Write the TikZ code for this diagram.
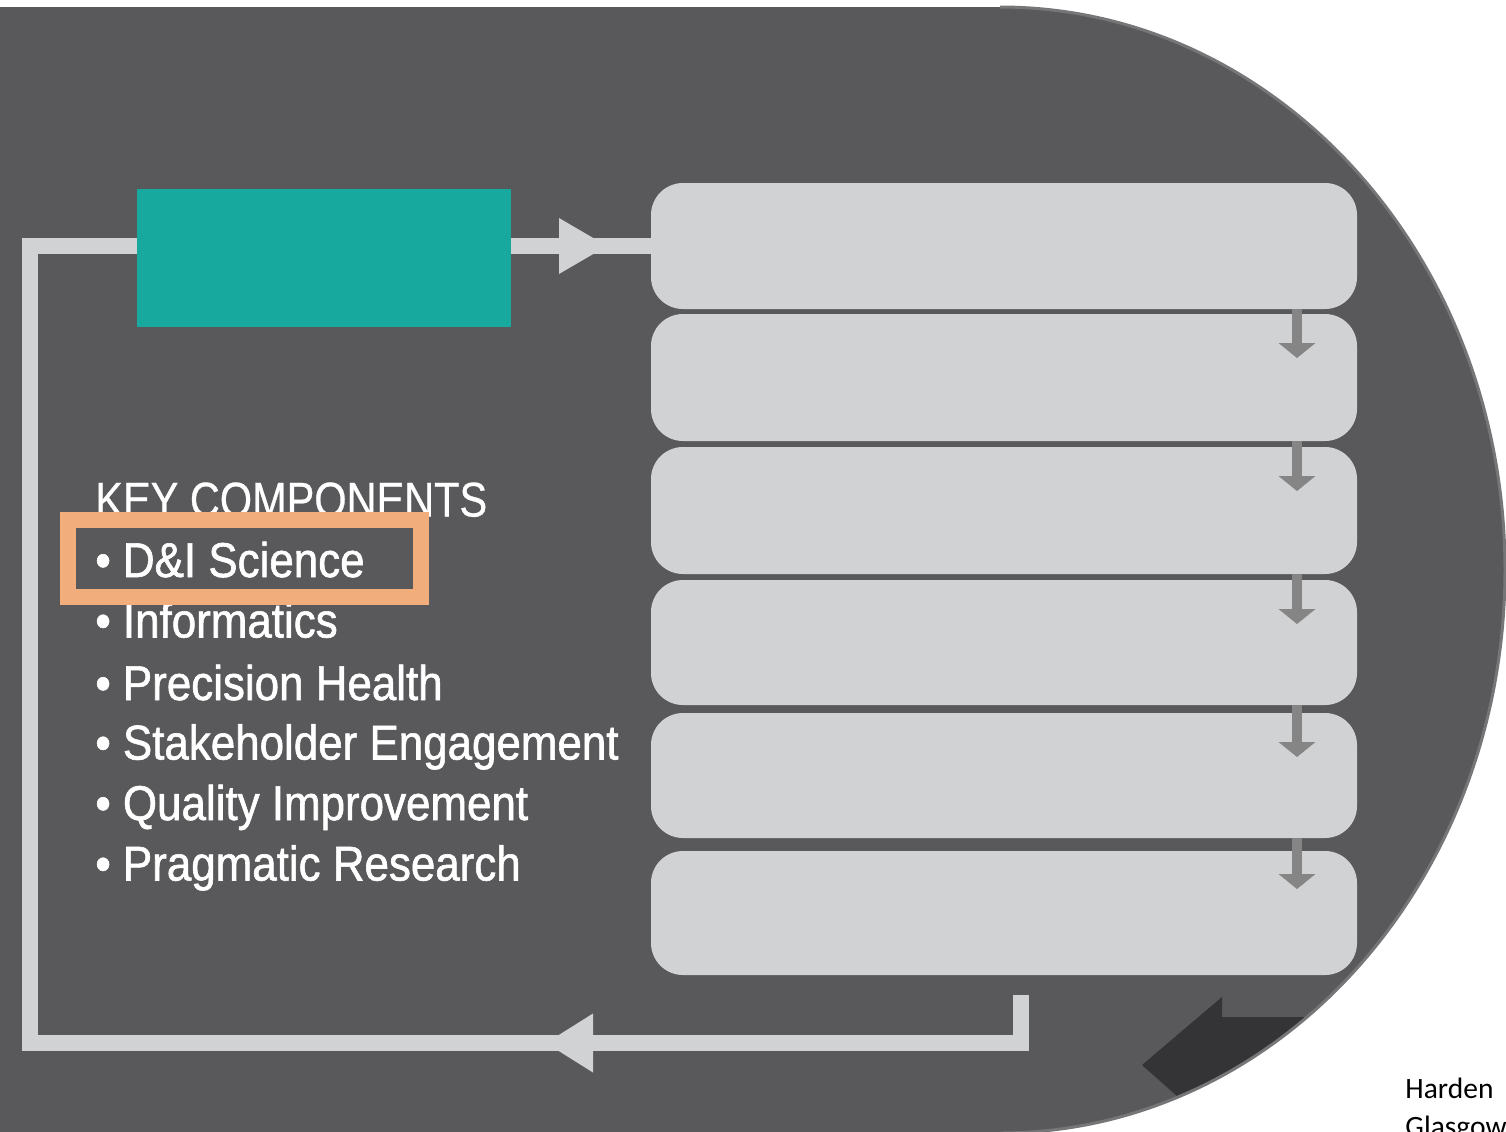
\documentclass[tikz,border=0pt]{standalone}
\usepackage{fontspec}
\newfontfamily\kctitle[FakeStretch=0.85,FakeBold=0.6]{Liberation Sans}
\newfontfamily\kcitem[FakeStretch=0.9,FakeBold=1.2]{Liberation Sans}
\newfontfamily\notefont{Carlito}
\definecolor{bgdark}{HTML}{59595B}
\definecolor{boxgray}{HTML}{D1D2D4}
\definecolor{tealbox}{HTML}{17A89E}
\definecolor{hlorange}{HTML}{F2AD7D}
\definecolor{arrgray}{HTML}{858585}
\definecolor{rimgray}{HTML}{767678}
\definecolor{darkarrow}{HTML}{343436}
\begin{document}
\begin{tikzpicture}[x=0.5pt,y=-0.5pt,
  stepbox/.style={fill=boxgray, draw=none, rounded corners=16pt, minimum width=353pt, inner sep=0pt, outer sep=0pt},
  tealnode/.style={fill=tealbox, draw=none, minimum width=187pt, minimum height=69pt, inner sep=0pt, outer sep=0pt},
  loopline/.style={draw=boxgray, line width=8pt},
  shaft/.style={draw=arrgray, line width=5pt},
  kctext/.style={anchor=base west, text=white, inner sep=0pt, font=\kcitem\fontsize{24.4pt}{29pt}\selectfont},
  notetext/.style={anchor=base west, text=black, inner sep=0pt, font=\notefont\fontsize{14.75pt}{19pt}\selectfont}
]
\useasboundingbox (0,0) rectangle (1506,1131);
\clip (0,0) rectangle (1506,1131);
\fill[white] (0,0) rectangle (1506,1131);
% dark background shape
\fill[bgdark] (0,7) -- (1000,7) arc[start angle=-90, end angle=90, x radius=505, y radius=563] -- (0,1133) -- cycle;
\begin{scope}
  \clip (0,7) -- (1000,7) arc[start angle=-90, end angle=90, x radius=505, y radius=563] -- (0,1133) -- cycle;
  \fill[darkarrow] (1222,997) -- (1142,1065) -- (1195,1112) -- (1460,1112) -- (1460,1017) -- (1222,1017) -- cycle;
\end{scope}
\draw[rimgray, line width=1.5pt] (1000,7) arc[start angle=-90, end angle=90, x radius=505, y radius=563];

% nodes
\node[tealnode] (t) at (324,258) {};
\node[stepbox, minimum height=63pt]   (b1) at (1004,246) {};
\node[stepbox, minimum height=63.5pt] (b2) at (1004,377.5) {};
\node[stepbox, minimum height=63.5pt] (b3) at (1004,510.5) {};
\node[stepbox, minimum height=62.5pt] (b4) at (1004,642.5) {};
\node[stepbox, minimum height=62.5pt] (b5) at (1004,775.5) {};
\node[stepbox, minimum height=62pt]   (b6) at (1004,913) {};

% feedback loop
\coordinate (ret) at (1021,995);
\coordinate (bl) at (29.5,1043);
\draw[loopline] (ret) |- (bl) |- (t.west |- b1.west);
\coordinate (tipBottom) at (546,1043);
\fill[boxgray] (tipBottom) -- ++(23.5pt,14.75pt) -- ++(0pt,-29.5pt) -- cycle;

% top connector
\draw[loopline] (t.east |- b1.west) -- (b1.west);
\coordinate (tipTop) at (607,246);
\fill[boxgray] (tipTop) -- ++(-24pt,14pt) -- ++(0pt,-28pt) -- cycle;

% down arrows between boxes
\coordinate (ax) at (1297,0);
\foreach \a/\b/\d in {b1/b2/22pt, b2/b3/22pt, b3/b4/22pt, b4/b5/22pt, b5/b6/19pt}{
  \coordinate (tip) at ([yshift=-\d]\b.north -| ax);
  \draw[shaft] (\a.south -| ax) -- ([yshift=7pt]tip);
  \fill[arrgray] (tip) -- ++(-9.25pt,7.5pt) -- ++(18.5pt,0pt) -- cycle;
}

% key components
\node[kctext, font=\kctitle\fontsize{24.4pt}{29pt}\selectfont] (kc) at (95,516.5) {KEY COMPONENTS};
\node[kctext] (k1) at (95,577) {• D\&I Science};
\node[kctext] (k2) at (95,637.5) {• Informatics};
\node[kctext] (k3) at (95,700) {• Precision Health};
\node[kctext] (k4) at (95,759.5) {• Stakeholder Engagement};
\node[kctext] (k5) at (95,820) {• Quality Improvement};
\node[kctext] (k6) at (95,880.5) {• Pragmatic Research};

% highlight
\node[draw=hlorange, line width=8pt, minimum width=176.5pt, minimum height=38.5pt, inner sep=0pt, outer sep=0pt] (hl) at (244.5,558.5) {};

% citation
\node[notetext] (n1) at (1405,1098) {Harden};
\node[notetext] (n2) at (1405,1136) {Glasgow};
\end{tikzpicture}
\end{document}
